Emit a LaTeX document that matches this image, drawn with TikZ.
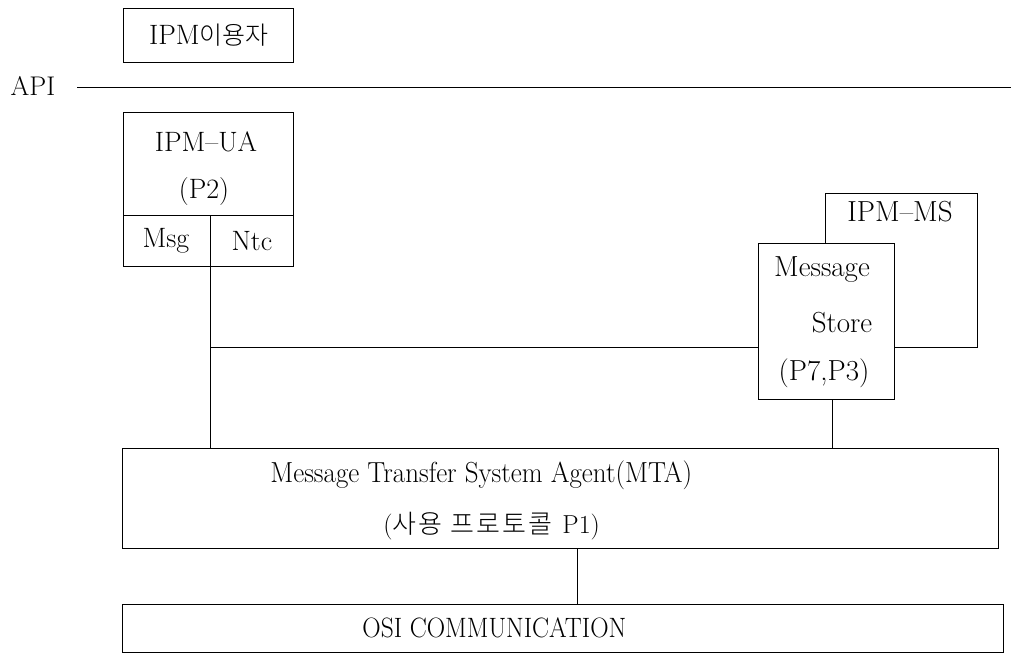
\documentclass[tikz,border=0pt]{standalone}
\usepackage{fontspec}
\newfontfamily\kr{Noto Sans CJK KR Light}
\newfontfamily\krw[LetterSpace=8]{Noto Sans CJK KR Light}
\begin{document}
\begin{tikzpicture}[x=1pt,y=-1pt,line width=0.8pt,
  boxr/.style={draw,anchor=north west,inner sep=0pt,fill=white},
  lbl/.style={inner sep=0pt,font=\fontsize{28}{32}\selectfont},
  lblb/.style={inner sep=0pt,font=\fontsize{29}{32}\selectfont}]
\useasboundingbox (0,0) rectangle (1011,654);
% top user box
\node[boxr,minimum width=170pt,minimum height=54pt] (user) at (123,8) {};
\node[lbl] (usert) at (209,35) {IPM{\kr\fontsize{25}{28}\selectfont 이용자}};
% API line
\node[lbl,font=\fontsize{27}{30}\selectfont] (api) at (33,86) {API};
\coordinate (apiL) at (77,87);
\coordinate (apiR) at (1011,87);
\draw (apiL) -- (apiR);
% IPM-UA
\node[boxr,minimum width=170pt,minimum height=154pt] (ua) at (123,112) {};
\node[boxr,minimum width=87pt,minimum height=51pt] (msg) at (123,215) {};
\node[boxr,minimum width=83pt,minimum height=51pt] (ntc) at (210,215) {};
\node[lbl] (uat) at (206,142) {IPM--UA};
\node[lbl] (p2) at (204,192) {(P2)};
\node[lbl] at ([xshift=-1pt]msg.center) {Msg};
\node[lbl] at (ntc.center) {Ntc};
% IPM-MS
\node[boxr,minimum width=152pt,minimum height=154pt] (ipmms) at (825,193) {};
\node[boxr,minimum width=136pt,minimum height=156pt] (ms) at (758,243) {};
\node[lblb] (ipmmst) at (900,212) {IPM--MS};
\node[lblb] (mst1) at (822,270) {Message};
\node[lblb] (mst2) at (842,323) {Store};
\node[lblb] (mst3) at (824,373) {(P7,P3)};
% MTA
\node[boxr,fill=none,minimum width=876pt,minimum height=100pt] (mta) at (122,448) {};
\node[inner sep=0pt,anchor=west,font=\fontsize{29}{32}\selectfont] (mtat) at (270,475) {\scalebox{0.93}[1]{Message Transfer System Agent(MTA)}};
\node[inner sep=0pt,anchor=west,font=\fontsize{26}{30}\selectfont] (mtap) at (383,526) {({\krw 사용\hspace{8pt}프로토콜}\hspace{10pt}P1)};
% OSI
\node[boxr,fill=none,minimum width=881pt,minimum height=48pt] (osi) at (122,604) {};
\node[inner sep=0pt,anchor=west,font=\fontsize{28}{32}\selectfont] (osit) at (362,628) {\scalebox{0.91}[1]{OSI COMMUNICATION}};
% connectors
\coordinate (bus) at (210,347);
\draw (ntc.south west) -- (ntc.south west |- mta.north);
\draw (bus) -- (ms.west |- bus);
\draw ([xshift=6pt]ms.south) -- ([xshift=6pt]ms.south |- mta.north);
\draw (mta.south -| 577,0) -- (osi.north -| 577,0);
\end{tikzpicture}
\end{document}
